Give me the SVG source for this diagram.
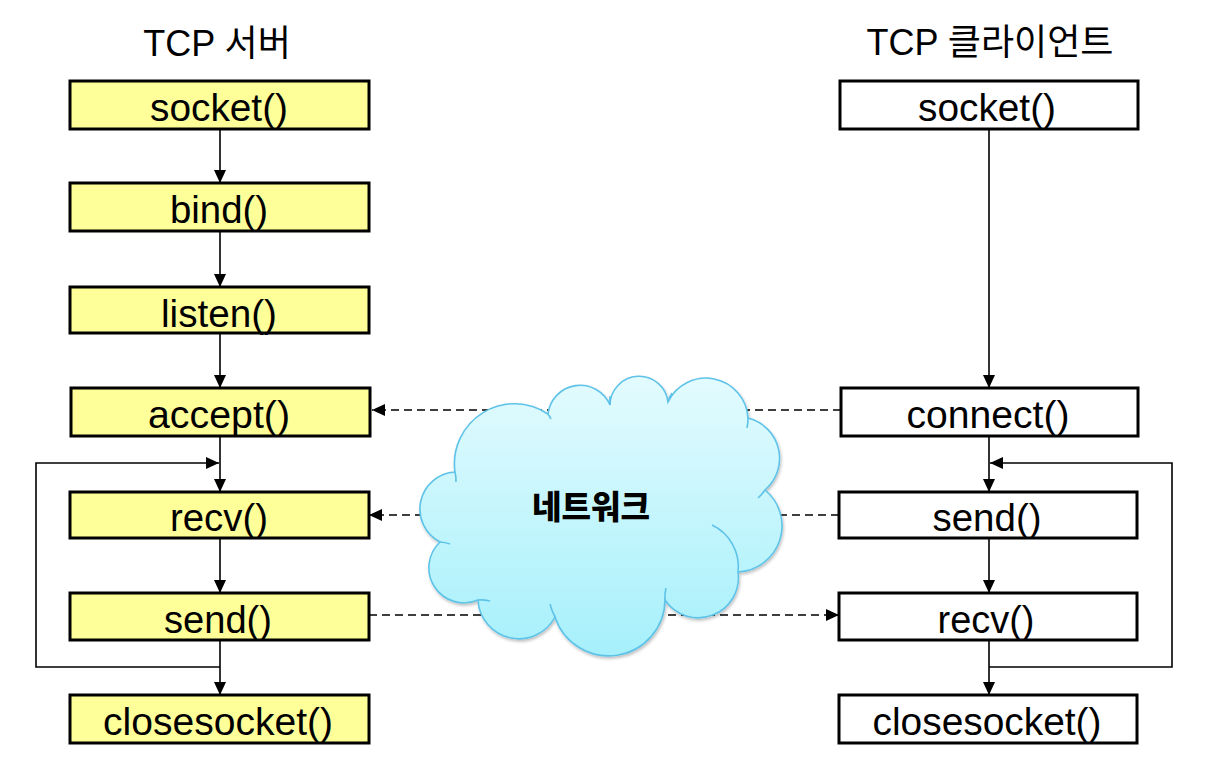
<svg xmlns="http://www.w3.org/2000/svg" width="1232" height="780" viewBox="0 0 1232 780">
<defs>
<style>
.box{stroke:#000;stroke-width:3}
.srv{fill:#ffff99}
.cli{fill:#fff}
.lbl{font-family:"Liberation Sans",Arial,sans-serif;font-size:38px;fill:#000;text-anchor:middle}
.ttl{font-family:"Liberation Sans","Noto Sans CJK KR",sans-serif;font-size:36px;fill:#000;text-anchor:middle}
.flow{stroke:#000;stroke-width:1.6;fill:none}
.dash{stroke:#000;stroke-width:1.6;fill:none;stroke-dasharray:8 5}
</style>
<marker id="ah" markerUnits="userSpaceOnUse" markerWidth="14" markerHeight="12" refX="13" refY="6" orient="auto">
<path d="M0,0 L13,6 L0,12 Z" fill="#000"/>
</marker>
<linearGradient id="cg" x1="0" y1="0" x2="0" y2="1">
<stop offset="0" stop-color="#e3fbfe"/>
<stop offset="1" stop-color="#a6f0fb"/>
</linearGradient>
<filter id="sh" x="-10%" y="-10%" width="120%" height="120%">
<feDropShadow dx="1" dy="2" stdDeviation="1.5" flood-color="#000" flood-opacity="0.25"/>
</filter>
</defs>
<rect width="1232" height="780" fill="#fff"/>

<g id="titles">
<text class="ttl" x="217" y="56">TCP 서버</text>
<text class="ttl" x="990" y="55">TCP 클라이언트</text>
</g>

<g id="connectors">
<!-- server flow -->
<line class="flow" x1="220" y1="129" x2="220" y2="183" marker-end="url(#ah)"/>
<line class="flow" x1="220" y1="231" x2="220" y2="287" marker-end="url(#ah)"/>
<line class="flow" x1="220" y1="333" x2="220" y2="388" marker-end="url(#ah)"/>
<line class="flow" x1="220" y1="436" x2="220" y2="492" marker-end="url(#ah)"/>
<line class="flow" x1="220" y1="538" x2="220" y2="593" marker-end="url(#ah)"/>
<line class="flow" x1="220" y1="640" x2="220" y2="695" marker-end="url(#ah)"/>
<polyline class="flow" points="220,667 36,667 36,463 219,463" marker-end="url(#ah)"/>
<!-- client flow -->
<line class="flow" x1="989" y1="129" x2="989" y2="388" marker-end="url(#ah)"/>
<line class="flow" x1="989" y1="436" x2="989" y2="492" marker-end="url(#ah)"/>
<line class="flow" x1="989" y1="538" x2="989" y2="593" marker-end="url(#ah)"/>
<line class="flow" x1="989" y1="640" x2="989" y2="695" marker-end="url(#ah)"/>
<polyline class="flow" points="989,667 1172,667 1172,463 990,463" marker-end="url(#ah)"/>
<!-- network dashed -->
<line class="dash" x1="841" y1="410" x2="372" y2="410" marker-end="url(#ah)"/>
<line class="dash" x1="839" y1="515" x2="369" y2="515" marker-end="url(#ah)"/>
<line class="dash" x1="369" y1="615" x2="839" y2="615" marker-end="url(#ah)"/>
</g>

<g id="network">
<path filter="url(#sh)" fill="url(#cg)" stroke="#5fc3e8" stroke-width="1.6" d="M455,472 A60,60 0 0 1 548,414 A32.4,32.4 0 0 1 610,405 A29.1,29.1 0 0 1 668,402 A42.1,42.1 0 0 1 748,418 A41.6,41.6 0 0 1 765,490 A46.2,46.2 0 0 1 738,572 A40.1,40.1 0 0 1 665,600 A56.4,56.4 0 0 1 555,617 A40.9,40.9 0 0 1 478,600 A35.2,35.2 0 0 1 440,542 A37.1,37.1 0 0 1 455,472 Z"/>
<g fill="none" stroke="#5fc3e8" stroke-width="1.6">
<path d="M712,525 A46,46 0 0 1 738,572"/>
<path d="M455,472 A37,37 0 0 1 456,482"/>
<path d="M548,414 A60,60 0 0 1 551,419"/>
<path d="M610,405 A32,32 0 0 1 610,396"/>
<path d="M668,402 A29,29 0 0 1 672,393"/>
<path d="M748,418 A42,42 0 0 1 747,428"/>
<path d="M765,490 A41,41 0 0 1 758,498"/>
<path d="M665,600 A40,40 0 0 1 666,588"/>
<path d="M555,617 A56,56 0 0 1 550,604"/>
<path d="M478,600 A41,41 0 0 1 490,601"/>
<path d="M440,542 A35,35 0 0 1 450,544"/>
</g>
<text x="591" y="519" font-family="'Noto Sans CJK KR',sans-serif" font-weight="900" font-size="33" text-anchor="middle" fill="#000" textLength="118" lengthAdjust="spacingAndGlyphs">네트워크</text>
</g>

<g id="srv-socket"><rect class="box srv" x="70" y="81" width="299" height="48"/><text class="lbl" x="219" y="121" textLength="138" lengthAdjust="spacingAndGlyphs">socket()</text></g>
<g id="srv-bind"><rect class="box srv" x="70" y="183" width="299" height="48"/><text class="lbl" x="219" y="223" textLength="98" lengthAdjust="spacingAndGlyphs">bind()</text></g>
<g id="srv-listen"><rect class="box srv" x="70" y="287" width="299" height="46"/><text class="lbl" x="219" y="327" textLength="116" lengthAdjust="spacingAndGlyphs">listen()</text></g>
<g id="srv-accept"><rect class="box srv" x="71" y="388" width="299" height="48"/><text class="lbl" x="219" y="428" textLength="142" lengthAdjust="spacingAndGlyphs">accept()</text></g>
<g id="srv-recv"><rect class="box srv" x="70" y="492" width="299" height="46"/><text class="lbl" x="219" y="531" textLength="98" lengthAdjust="spacingAndGlyphs">recv()</text></g>
<g id="srv-send"><rect class="box srv" x="70" y="593" width="299" height="47"/><text class="lbl" x="218" y="633" textLength="108" lengthAdjust="spacingAndGlyphs">send()</text></g>
<g id="srv-closesocket"><rect class="box srv" x="70" y="695" width="299" height="48"/><text class="lbl" x="218" y="735" textLength="230" lengthAdjust="spacingAndGlyphs">closesocket()</text></g>

<g id="cli-socket"><rect class="box cli" x="840" y="81" width="298" height="48"/><text class="lbl" x="987" y="121" textLength="138" lengthAdjust="spacingAndGlyphs">socket()</text></g>
<g id="cli-connect"><rect class="box cli" x="841" y="388" width="297" height="48"/><text class="lbl" x="988" y="428" textLength="163" lengthAdjust="spacingAndGlyphs">connect()</text></g>
<g id="cli-send"><rect class="box cli" x="839" y="492" width="298" height="46"/><text class="lbl" x="987" y="531" textLength="109" lengthAdjust="spacingAndGlyphs">send()</text></g>
<g id="cli-recv"><rect class="box cli" x="839" y="593" width="298" height="47"/><text class="lbl" x="986" y="633" textLength="97" lengthAdjust="spacingAndGlyphs">recv()</text></g>
<g id="cli-closesocket"><rect class="box cli" x="839" y="695" width="298" height="48"/><text class="lbl" x="987" y="735" textLength="229" lengthAdjust="spacingAndGlyphs">closesocket()</text></g>
</svg>
